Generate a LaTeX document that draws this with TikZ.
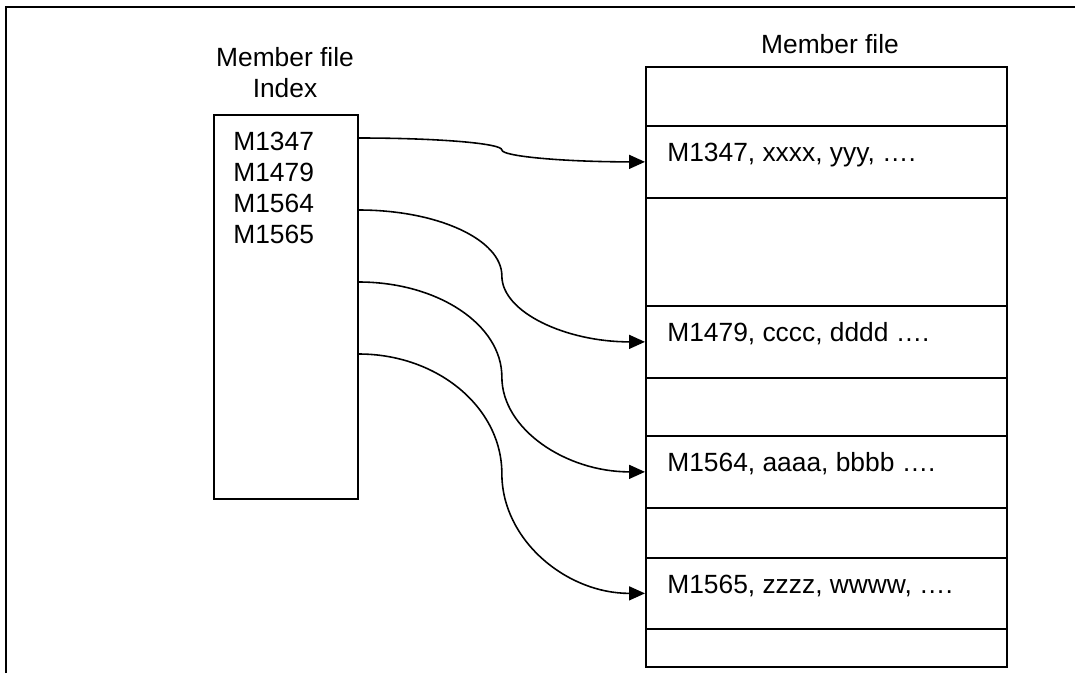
\documentclass[tikz,border=0pt]{standalone}
\usepackage{fontspec}
\setmainfont{Liberation Sans}
\usetikzlibrary{arrows.meta, positioning, calc}

\begin{document}
\begin{tikzpicture}[
    x=0.02cm, y=-0.02cm,
    >={Triangle[length=0.32cm,width=0.28cm]},
    every node/.style={font=\fontsize{15}{17.6}\selectfont},
    indexbox/.style={draw, line width=1pt, minimum width=2.88cm, minimum height=7.68cm, inner sep=0pt, anchor=north west},
    recordrow/.style={draw, line width=1pt, minimum width=7.22cm, minimum height=#1, inner sep=0pt, anchor=north west},
    rowtext/.style={anchor=base west, inner sep=0pt},
    title/.style={anchor=base, inner sep=0pt},
    link/.style={->, line width=0.9pt}
]
\useasboundingbox (0,0) rectangle (1075,673);

% Frame
\draw[line width=1.2pt] (6,673) -- (6,7) -- (1075,7);

% Titles
\node[title] (idxtitle1) at (285,66) {Member file};
\node[title] (idxtitle2) at (285,97) {Index};
\node[title] (filetitle) at (830,53) {Member file};

% Index box
\node[indexbox] (idx) at (213,114) {};
\foreach \k/\key in {0/M1347,1/M1479,2/M1564,3/M1565}
    \node[rowtext] (key\k) at ($(idx.north west)+(20,{36+31*\k})$) {\key};

% Member file rows
\foreach \n/\y/\h in {1/66/1.18cm, 2/125/1.44cm, 3/197/2.16cm, 4/305/1.44cm, 5/377/1.16cm,
                      6/435/1.44cm, 7/507/1.0cm, 8/557/1.42cm, 9/628/0.76cm}
    \node[recordrow=\h] (row\n) at (645,\y) {};

% Row texts
\node[rowtext] (rec2) at ($(row2.north west)+(22,36)$) {M1347, xxxx, yyy, ….};
\node[rowtext] (rec4) at ($(row4.north west)+(22,36)$) {M1479, cccc, dddd ….};
\node[rowtext] (rec6) at ($(row6.north west)+(22,36)$) {M1564, aaaa, bbbb ….};
\node[rowtext] (rec8) at ($(row8.north west)+(22,36)$) {M1565, zzzz, wwww, ….};

% Links: index -> records
\foreach \i/\r/\dy in {1/2/24, 2/4/96, 3/6/168, 4/8/240} {
    \coordinate (src\i) at ($(idx.north east)+(0,\dy)$);
    \coordinate (mid\i) at ($(src\i)!0.5!(row\r.west)$);
    \draw[link] (src\i)
        .. controls ($(src\i)!0.552!(src\i -| mid\i)$) and ($(mid\i)!0.552!(mid\i |- src\i)$) .. (mid\i)
        .. controls ($(mid\i)!0.552!(mid\i |- row\r.west)$) and ($(row\r.west)!0.552!(row\r.west -| mid\i)$) .. (row\r.west);
}

\end{tikzpicture}
\end{document}
